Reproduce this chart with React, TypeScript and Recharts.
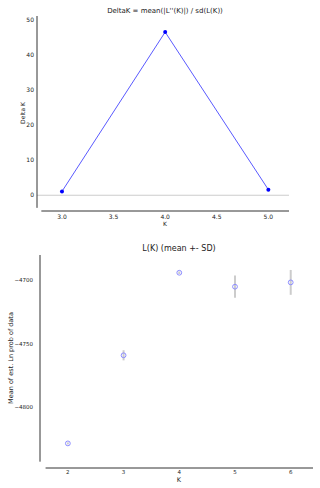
import React from 'react';
import {
  ComposedChart, LineChart, Line, Scatter, ErrorBar, XAxis, YAxis,
  ReferenceLine, Customized,
} from 'recharts';

// Top chart: Delta K
const deltaK_K = [3, 4, 5];
const deltaK_values = [1.1, 46.6, 1.6];
const deltaK_xTicks = [3.0, 3.5, 4.0, 4.5, 5.0];
const deltaK_yTicks = [0, 10, 20, 30, 40, 50];

// Bottom chart: L(K) mean +- SD
const lk_K = [2, 3, 4, 5, 6];
const lk_mean = [-4828.6, -4759.1, -4694.0, -4705.0, -4701.6];
const lk_sd = [0.8, 4.0, 1.0, 8.8, 9.8];
const lk_xTicks = [2, 3, 4, 5, 6];
const lk_yTicks = [-4800, -4750, -4700];

const deltaData = deltaK_K.map((k, i) => ({ k, v: deltaK_values[i] }));
const lkData = lk_K.map((k, i) => ({ k, mean: lk_mean[i], sd: lk_sd[i] }));

const FONT = 'DejaVu Sans';
const TXT = '#222';
const SPINE = '#333';

const minus = (v: number) => String(v).replace('-', '\u2212');

const Title1 = () => (
  <text x={165} y={12.5} textAnchor="middle" fontFamily={FONT} fontSize={7} fill={TXT}>
    {"DeltaK = mean(|L''(K)|) / sd(L(K))"}
  </text>
);
const Labels1 = () => (
  <g fontFamily={FONT} fill={TXT}>
    <text x={165} y={226} textAnchor="middle" fontSize={6}>K</text>
    <text x={0} y={0} transform="translate(24.5,113) rotate(-90)" textAnchor="middle" fontSize={6}>Delta K</text>
  </g>
);
const Title2 = () => (
  <text x={179} y={11} textAnchor="middle" fontFamily={FONT} fontSize={8} fill={TXT}>
    L(K) (mean +- SD)
  </text>
);
const Labels2 = () => (
  <g fontFamily={FONT} fill={TXT}>
    <text x={179} y={241.5} textAnchor="middle" fontSize={6.5}>K</text>
    <text x={0} y={0} transform="translate(12.5,118) rotate(-90)" textAnchor="middle" fontSize={6.5}>Mean of est. Ln prob of data</text>
  </g>
);

const OpenCircle = (p: any) => (
  <circle cx={p.cx} cy={p.cy} r={2.4} fill="none" stroke="#8c8cff" strokeWidth={1} />
);

export default function App() {
  return (
    <div style={{ position: 'absolute', left: 0, top: 0, width: 320, height: 488, background: '#fff' }}>
      <div style={{ position: 'absolute', left: 0, top: 0 }}>
        <LineChart width={320} height={240} data={deltaData}
          margin={{ top: 16, right: 31, bottom: 9, left: 9 }}>
          <XAxis type="number" dataKey="k" domain={[2.758, 5.2]} ticks={deltaK_xTicks}
            allowDataOverflow axisLine={false} tickLine={false} tickSize={0} tickMargin={4}
            tickFormatter={(v: number) => v.toFixed(1)} height={20}
            tick={{ fontSize: 6, fontFamily: FONT, fill: TXT }} />
          <YAxis type="number" domain={[-4.5, 51.2]} ticks={deltaK_yTicks} allowDataOverflow
            axisLine={false} tickLine={false} tickSize={0} tickMargin={3} width={28}
            tick={{ fontSize: 6, fontFamily: FONT, fill: TXT }} />
          <ReferenceLine y={0} stroke="#cccccc" strokeWidth={1} />
          <ReferenceLine segment={[{ x: 2.758, y: -3.6 }, { x: 2.758, y: 51.2 }]} stroke={SPINE} strokeWidth={1} ifOverflow="visible" />
          <ReferenceLine segment={[{ x: 2.8, y: -4.5 }, { x: 5.2, y: -4.5 }]} stroke={SPINE} strokeWidth={1} ifOverflow="visible" />
          <Line type="linear" dataKey="v" stroke="#5a5aff" strokeWidth={1}
            dot={{ r: 2, fill: '#0000ff', stroke: 'none' }} isAnimationActive={false} />
          <Customized component={Title1} />
          <Customized component={Labels1} />
        </LineChart>
      </div>
      <div style={{ position: 'absolute', left: 0, top: 240 }}>
        <ComposedChart width={320} height={248} data={lkData}
          margin={{ top: 15, right: 7, bottom: 6, left: 0 }}>
          <XAxis type="number" dataKey="k" domain={[1.5, 6.4]} ticks={lk_xTicks}
            allowDataOverflow axisLine={false} tickLine={false} tickSize={0} tickMargin={2}
            height={14} tick={{ fontSize: 5.5, fontFamily: FONT, fill: TXT }} />
          <YAxis type="number" dataKey="mean" domain={[-4848, -4680]} ticks={lk_yTicks}
            allowDataOverflow axisLine={false} tickLine={false} tickSize={0} tickMargin={7}
            width={40} tickFormatter={minus}
            tick={{ fontSize: 5.5, fontFamily: FONT, fill: TXT }} />
          <ReferenceLine segment={[{ x: 1.5, y: -4843 }, { x: 1.5, y: -4680 }]} stroke={SPINE} strokeWidth={1} ifOverflow="visible" />
          <ReferenceLine segment={[{ x: 1.6, y: -4848 }, { x: 6.4, y: -4848 }]} stroke={SPINE} strokeWidth={1} ifOverflow="visible" />
          <Scatter dataKey="mean" shape={OpenCircle} isAnimationActive={false}>
            <ErrorBar dataKey="sd" direction="y" width={0} stroke="#cccccc" strokeWidth={2} isAnimationActive={false} />
          </Scatter>
          <Customized component={Title2} />
          <Customized component={Labels2} />
        </ComposedChart>
      </div>
    </div>
  );
}
